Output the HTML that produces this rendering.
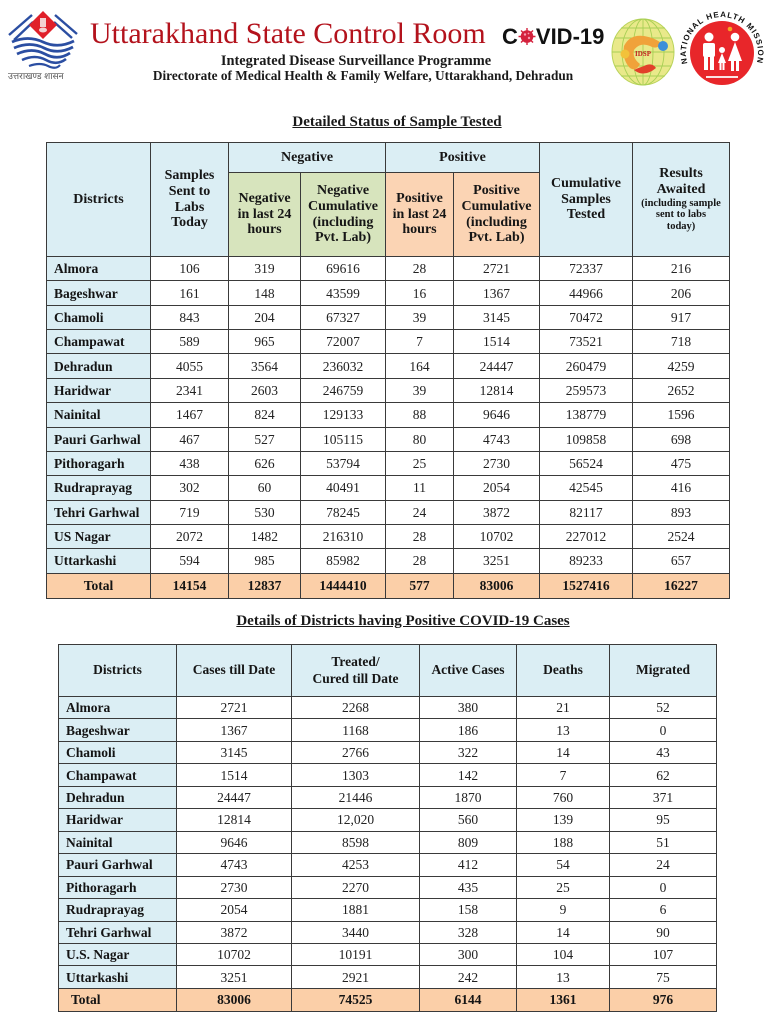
<!DOCTYPE html>
<html><head><meta charset="utf-8">
<style>
html,body{margin:0;padding:0;background:#fff;}
body{width:776px;height:1024px;position:relative;overflow:hidden;font-family:"Liberation Serif",serif;color:#1a1a1a;}
.abs{position:absolute;}
.title{font-size:30px;line-height:30px;color:#b3121c;left:90px;top:19px;white-space:nowrap;}
.sub1{font-weight:bold;font-size:14.4px;line-height:16px;left:0;width:712px;text-align:center;top:53px;white-space:nowrap;}
.sub2{font-weight:bold;font-size:13.3px;line-height:16px;left:0;width:726px;text-align:center;top:68px;white-space:nowrap;}
.covid{font-family:"Liberation Sans",sans-serif;font-weight:bold;font-size:22px;line-height:24px;left:502px;top:25px;white-space:nowrap;color:#111;}
.h{font-weight:bold;font-size:15px;line-height:18px;text-decoration:underline;white-space:nowrap;text-align:center;}
table{position:absolute;border-collapse:collapse;table-layout:fixed;font-family:"Liberation Serif",serif;}
td{border:1px solid #3a3a3a;padding:0;text-align:center;vertical-align:middle;font-size:13.5px;line-height:15px;color:#222;white-space:nowrap;overflow:hidden;}
td.d{text-align:left;padding-left:7px;font-weight:bold;background:#dbeef4;color:#141414;}
.bl{background:#dbeef4;}
.gr{background:#d7e4bd;}
.or{background:#fbd4b4;}
tr.tot td{background:#fbcfa8;font-weight:bold;color:#141414;}
.hd td{font-weight:bold;color:#161616;font-size:14px;line-height:15.7px;}
.sm{font-size:10.5px;line-height:11.7px;display:block;}
.t2 .hd td{font-size:13.5px;line-height:16.5px;}
</style></head><body>

<!-- Left emblem -->
<svg class="abs" style="left:0;top:0" width="90" height="72" viewBox="0 0 90 72">
  <polyline points="9,35 32,15" stroke="#2b4ea2" stroke-width="2.4" fill="none"/>
  <polyline points="14,40 33,22" stroke="#2b4ea2" stroke-width="2.4" fill="none"/>
  <polyline points="55,15 77,34" stroke="#2b4ea2" stroke-width="2.4" fill="none"/>
  <polyline points="54,22 72,38" stroke="#2b4ea2" stroke-width="2.4" fill="none"/>
  <polygon points="43,11 57,25 43,39 29,25" fill="#e0202a"/>
  <rect x="40" y="18" width="6" height="9" fill="#f3d2d2"/>
  <ellipse cx="43" cy="30" rx="4" ry="2.5" fill="#f3d2d2"/>
  <path d="M12,42 Q28,35 43,42 T74,41" stroke="#2b4ea2" stroke-width="2.8" fill="none"/>
  <path d="M14,48 Q30,41 44,48 T73,47" stroke="#2b4ea2" stroke-width="2.8" fill="none"/>
  <path d="M17,54 Q32,47 45,54 T70,53" stroke="#2b4ea2" stroke-width="2.8" fill="none"/>
  <path d="M22,60 Q35,54 46,60 T66,59" stroke="#2b4ea2" stroke-width="2.6" fill="none"/>
  <path d="M29,66 Q40,62 48,66 T60,65" stroke="#2b4ea2" stroke-width="2.2" fill="none"/>
</svg>
<div class="abs" style="left:8px;top:71px;font-size:9px;line-height:11px;color:#555;white-space:nowrap;font-family:'Liberation Sans',sans-serif;">उत्तराखण्ड शासन</div>

<div class="abs title">Uttarakhand State Control Room</div>
<div class="abs sub1">Integrated Disease Surveillance Programme</div>
<div class="abs sub2">Directorate of Medical Health &amp; Family Welfare, Uttarakhand, Dehradun</div>

<div class="abs covid">C<svg width="18" height="17" viewBox="0 0 18 17" style="vertical-align:baseline;margin:0 0 -1px 0"><g stroke="#d4213d" stroke-width="1.4"><line x1="9" y1="0" x2="9" y2="17"/><line x1="0.5" y1="8.5" x2="17.5" y2="8.5"/><line x1="3" y1="2.5" x2="15" y2="14.5"/><line x1="15" y1="2.5" x2="3" y2="14.5"/></g><circle cx="9" cy="8.5" r="6.3" fill="#d4213d"/><circle cx="7" cy="6.5" r="1.2" fill="#f59ab0"/><circle cx="11" cy="10" r="1.2" fill="#f59ab0"/><circle cx="10.5" cy="5.5" r="0.9" fill="#f59ab0"/></svg>VID-19</div>

<!-- IDSP logo -->
<svg class="abs" style="left:610px;top:16px" width="68" height="72" viewBox="0 0 68 72">
  <ellipse cx="33" cy="36" rx="31" ry="33" fill="#e9e98a" stroke="#b9d35a" stroke-width="1"/>
  <g stroke="#a8cf55" stroke-width="0.9" fill="none">
    <ellipse cx="33" cy="36" rx="21" ry="33"/><ellipse cx="33" cy="36" rx="10" ry="33"/>
    <line x1="33" y1="3" x2="33" y2="69"/>
    <line x1="5" y1="22" x2="61" y2="22"/><line x1="2" y1="36" x2="64" y2="36"/><line x1="5" y1="50" x2="61" y2="50"/>
    <line x1="11" y1="12" x2="55" y2="12"/><line x1="11" y1="60" x2="55" y2="60"/>
  </g>
  <path d="M14,30 Q20,18 34,20 Q46,22 52,28 Q46,34 40,30 Q30,26 24,34 Q22,42 30,48 Q26,56 20,52 Q12,44 14,30Z" fill="#f0a23a"/>
  <circle cx="53" cy="30" r="5" fill="#3b8fd9"/>
  <circle cx="15" cy="38" r="4.5" fill="#f2c23a"/>
  <path d="M24,54 Q34,62 46,52 Q42,46 34,50 Q28,52 24,54Z" fill="#e2402a"/>
  <text x="33" y="40" font-family="Liberation Serif,serif" font-size="7" font-weight="bold" fill="#c52020" text-anchor="middle">IDSP</text>
</svg>

<!-- NHM logo -->
<svg class="abs" style="left:676px;top:4px" width="96" height="96" viewBox="0 0 96 96">
  <defs><path id="arc" d="M20.2,74.2 A36,36 0 1 1 71.8,74.2"/></defs>
  <circle cx="46" cy="49" r="32" fill="#e8262a"/>
  <text font-family="Liberation Sans,sans-serif" font-size="8" font-weight="bold" fill="#111" letter-spacing="1"><textPath href="#arc" startOffset="50%" text-anchor="middle" dominant-baseline="auto">NATIONAL HEALTH MISSION</textPath></text>
  <circle cx="54" cy="25" r="2.3" fill="#f5a623"/>
  <g fill="#fff">
    <circle cx="33" cy="33" r="4.5"/>
    <rect x="27" y="39" width="12" height="14" rx="2"/>
    <rect x="28" y="52" width="4" height="14"/><rect x="34" y="52" width="4" height="14"/>
    <circle cx="59" cy="33" r="4.3"/>
    <polygon points="59,38 66,57 52,57"/>
    <rect x="55" y="57" width="3" height="10"/><rect x="60" y="57" width="3" height="10"/>
    <circle cx="46" cy="46" r="3"/>
    <polygon points="46,49 50,59 42,59"/>
    <rect x="43.5" y="59" width="2" height="7"/><rect x="46.5" y="59" width="2" height="7"/>
  </g>
  <rect x="30" y="72" width="32" height="2" fill="#fbe3e3"/>
</svg>

<div class="abs h" style="left:0;width:794px;top:113px;">Detailed Status of Sample Tested</div>

<table style="left:46px;top:142px;width:683px;">
<colgroup><col style="width:104px"><col style="width:78px"><col style="width:72px"><col style="width:85px"><col style="width:68px"><col style="width:86px"><col style="width:93px"><col style="width:97px"></colgroup>
<tr class="hd" style="height:30px"><td class="bl" rowspan="2">Districts</td><td class="bl" rowspan="2">Samples<br>Sent to<br>Labs<br>Today</td><td class="bl" colspan="2">Negative</td><td class="bl" colspan="2">Positive</td><td class="bl" rowspan="2">Cumulative<br>Samples<br>Tested</td><td class="bl" rowspan="2">Results<br>Awaited<span class="sm">(including sample<br>sent to labs<br>today)</span></td></tr>
<tr class="hd" style="height:84px"><td class="gr">Negative<br>in last 24<br>hours</td><td class="gr">Negative<br>Cumulative<br>(including<br>Pvt. Lab)</td><td class="or">Positive<br>in last 24<br>hours</td><td class="or">Positive<br>Cumulative<br>(including<br>Pvt. Lab)</td></tr>
<tr style="height:24.36px"><td class="d">Almora</td><td>106</td><td>319</td><td>69616</td><td>28</td><td>2721</td><td>72337</td><td>216</td></tr>
<tr style="height:24.36px"><td class="d">Bageshwar</td><td>161</td><td>148</td><td>43599</td><td>16</td><td>1367</td><td>44966</td><td>206</td></tr>
<tr style="height:24.36px"><td class="d">Chamoli</td><td>843</td><td>204</td><td>67327</td><td>39</td><td>3145</td><td>70472</td><td>917</td></tr>
<tr style="height:24.36px"><td class="d">Champawat</td><td>589</td><td>965</td><td>72007</td><td>7</td><td>1514</td><td>73521</td><td>718</td></tr>
<tr style="height:24.36px"><td class="d">Dehradun</td><td>4055</td><td>3564</td><td>236032</td><td>164</td><td>24447</td><td>260479</td><td>4259</td></tr>
<tr style="height:24.36px"><td class="d">Haridwar</td><td>2341</td><td>2603</td><td>246759</td><td>39</td><td>12814</td><td>259573</td><td>2652</td></tr>
<tr style="height:24.36px"><td class="d">Nainital</td><td>1467</td><td>824</td><td>129133</td><td>88</td><td>9646</td><td>138779</td><td>1596</td></tr>
<tr style="height:24.36px"><td class="d">Pauri Garhwal</td><td>467</td><td>527</td><td>105115</td><td>80</td><td>4743</td><td>109858</td><td>698</td></tr>
<tr style="height:24.36px"><td class="d">Pithoragarh</td><td>438</td><td>626</td><td>53794</td><td>25</td><td>2730</td><td>56524</td><td>475</td></tr>
<tr style="height:24.36px"><td class="d">Rudraprayag</td><td>302</td><td>60</td><td>40491</td><td>11</td><td>2054</td><td>42545</td><td>416</td></tr>
<tr style="height:24.36px"><td class="d">Tehri Garhwal</td><td>719</td><td>530</td><td>78245</td><td>24</td><td>3872</td><td>82117</td><td>893</td></tr>
<tr style="height:24.36px"><td class="d">US Nagar</td><td>2072</td><td>1482</td><td>216310</td><td>28</td><td>10702</td><td>227012</td><td>2524</td></tr>
<tr style="height:24.36px"><td class="d">Uttarkashi</td><td>594</td><td>985</td><td>85982</td><td>28</td><td>3251</td><td>89233</td><td>657</td></tr>
<tr class="tot" style="height:25.6px"><td style="text-align:center">Total</td><td>14154</td><td>12837</td><td>1444410</td><td>577</td><td>83006</td><td>1527416</td><td>16227</td></tr>
</table>

<div class="abs h" style="left:0;width:806px;top:612px;">Details of Districts having Positive COVID-19 Cases</div>

<table class="t2" style="left:58px;top:644px;width:658px;">
<colgroup><col style="width:118px"><col style="width:115px"><col style="width:128px"><col style="width:97px"><col style="width:93px"><col style="width:107px"></colgroup>
<tr class="hd" style="height:52px"><td class="bl">Districts</td><td class="bl">Cases till Date</td><td class="bl">Treated/<br>Cured till Date</td><td class="bl">Active Cases</td><td class="bl">Deaths</td><td class="bl">Migrated</td></tr>
<tr style="height:22.46px"><td class="d">Almora</td><td>2721</td><td>2268</td><td>380</td><td>21</td><td>52</td></tr>
<tr style="height:22.46px"><td class="d">Bageshwar</td><td>1367</td><td>1168</td><td>186</td><td>13</td><td>0</td></tr>
<tr style="height:22.46px"><td class="d">Chamoli</td><td>3145</td><td>2766</td><td>322</td><td>14</td><td>43</td></tr>
<tr style="height:22.46px"><td class="d">Champawat</td><td>1514</td><td>1303</td><td>142</td><td>7</td><td>62</td></tr>
<tr style="height:22.46px"><td class="d">Dehradun</td><td>24447</td><td>21446</td><td>1870</td><td>760</td><td>371</td></tr>
<tr style="height:22.46px"><td class="d">Haridwar</td><td>12814</td><td>12,020</td><td>560</td><td>139</td><td>95</td></tr>
<tr style="height:22.46px"><td class="d">Nainital</td><td>9646</td><td>8598</td><td>809</td><td>188</td><td>51</td></tr>
<tr style="height:22.46px"><td class="d">Pauri Garhwal</td><td>4743</td><td>4253</td><td>412</td><td>54</td><td>24</td></tr>
<tr style="height:22.46px"><td class="d">Pithoragarh</td><td>2730</td><td>2270</td><td>435</td><td>25</td><td>0</td></tr>
<tr style="height:22.46px"><td class="d">Rudraprayag</td><td>2054</td><td>1881</td><td>158</td><td>9</td><td>6</td></tr>
<tr style="height:22.46px"><td class="d">Tehri Garhwal</td><td>3872</td><td>3440</td><td>328</td><td>14</td><td>90</td></tr>
<tr style="height:22.46px"><td class="d">U.S. Nagar</td><td>10702</td><td>10191</td><td>300</td><td>104</td><td>107</td></tr>
<tr style="height:22.46px"><td class="d">Uttarkashi</td><td>3251</td><td>2921</td><td>242</td><td>13</td><td>75</td></tr>
<tr class="tot" style="height:23px"><td style="text-align:left;padding-left:12px">Total</td><td>83006</td><td>74525</td><td>6144</td><td>1361</td><td>976</td></tr>
</table>

</body></html>
